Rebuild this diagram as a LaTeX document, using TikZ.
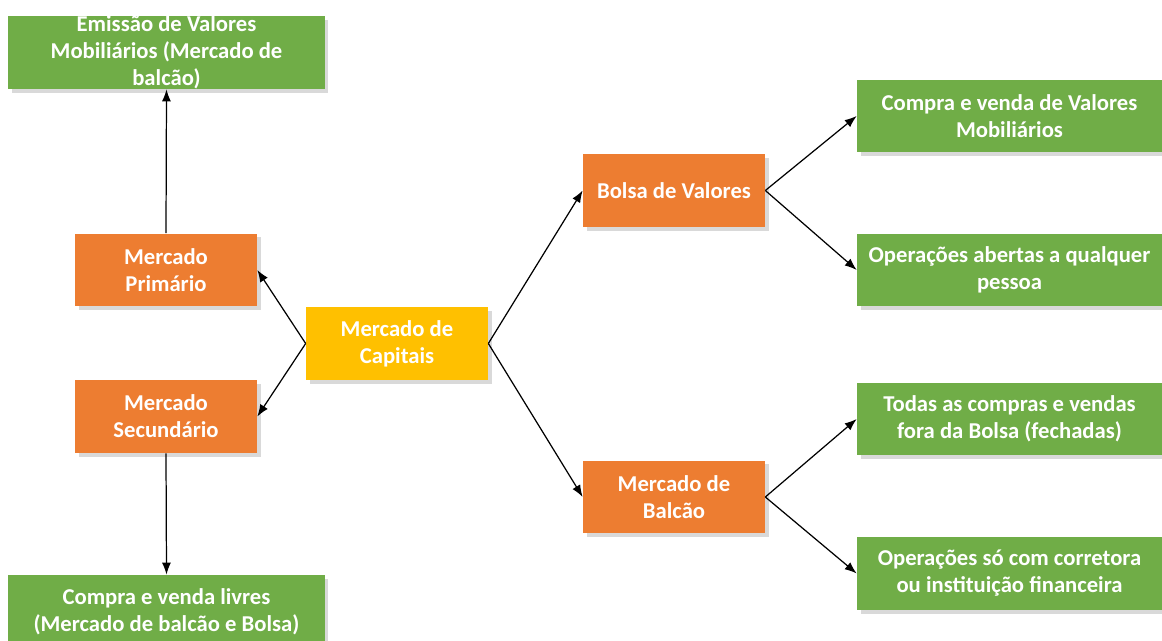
\documentclass[tikz,border=0pt]{standalone}
\usepackage{fontspec}
\setmainfont{Carlito}
\usetikzlibrary{arrows.meta,shadows}

\definecolor{laranja}{HTML}{ED7D31}
\definecolor{verde}{HTML}{70AD47}
\definecolor{amarelo}{HTML}{FFC000}

\begin{document}
\begin{tikzpicture}[x=0.02cm,y=-0.02cm,
	caixa/.style={rectangle, fill=#1, text=white, font=\fontsize{12.9}{15.4}\selectfont\bfseries, align=center, inner sep=0pt, minimum width=3.64cm, minimum height=1.46cm, drop shadow={shadow xshift=2pt,shadow yshift=-2pt,opacity=.3}},
	seta/.style={-{Latex[length=2.4mm,width=1.8mm]}, line width=0.7pt}]
	\useasboundingbox (0,0) rectangle (1162,641);

	\node 	(capitais)	at	(397,343.5) 	[caixa=amarelo]{Mercado de\\Capitais};

	\node 	(primario)	at	(166,270) 	[caixa=laranja]{Mercado\\Primário};
	\node 	(secundario)	at	(166,416.5) 	[caixa=laranja]{Mercado\\Secundário};
	\node 	(bolsa)		at	(674,190.5) 	[caixa=laranja]{Bolsa de Valores};
	\node 	(balcao)	at	(674,497) 	[caixa=laranja]{Mercado de\\Balcão};

	\node 	(emissao)	at	(166.5,52.5) 	[caixa=verde, minimum width=6.34cm, inner ysep=-2pt]{Emissão de Valores\\Mobiliários (Mercado de\\balcão)};
	\node 	(livres)	at	(166.5,611.5) 	[caixa=verde, minimum width=6.34cm]{Compra e venda livres\\(Mercado de balcão e Bolsa)};

	\node 	(compra)	at	(1009.5,116) 	[caixa=verde, minimum width=6.1cm]{Compra e venda de Valores\\Mobiliários};
	\node 	(abertas)	at	(1009.5,270) 	[caixa=verde, minimum width=6.1cm]{Operações abertas a qualquer\\pessoa};
	\node 	(todas)		at	(1009.5,419) 	[caixa=verde, minimum width=6.1cm]{Todas as compras e vendas\\fora da Bolsa (fechadas)};
	\node 	(corretora)	at	(1009.5,573.5) 	[caixa=verde, minimum width=6.1cm]{Operações só com corretora\\ou instituição financeira};

	\draw[seta] (primario.north) to 	(emissao.south);
	\draw[seta] (secundario.south) to 	(livres.north);
	\draw[seta] (capitais.west) to 	(primario.east);
	\draw[seta] (capitais.west) to 	(secundario.east);
	\draw[seta] (capitais.east) to 	(bolsa.west);
	\draw[seta] (capitais.east) to 	(balcao.west);
	\draw[seta] (bolsa.east) to 	(compra.west);
	\draw[seta] (bolsa.east) to 	(abertas.west);
	\draw[seta] (balcao.east) to 	(todas.west);
	\draw[seta] (balcao.east) to 	(corretora.west);

\end{tikzpicture}
\end{document}
